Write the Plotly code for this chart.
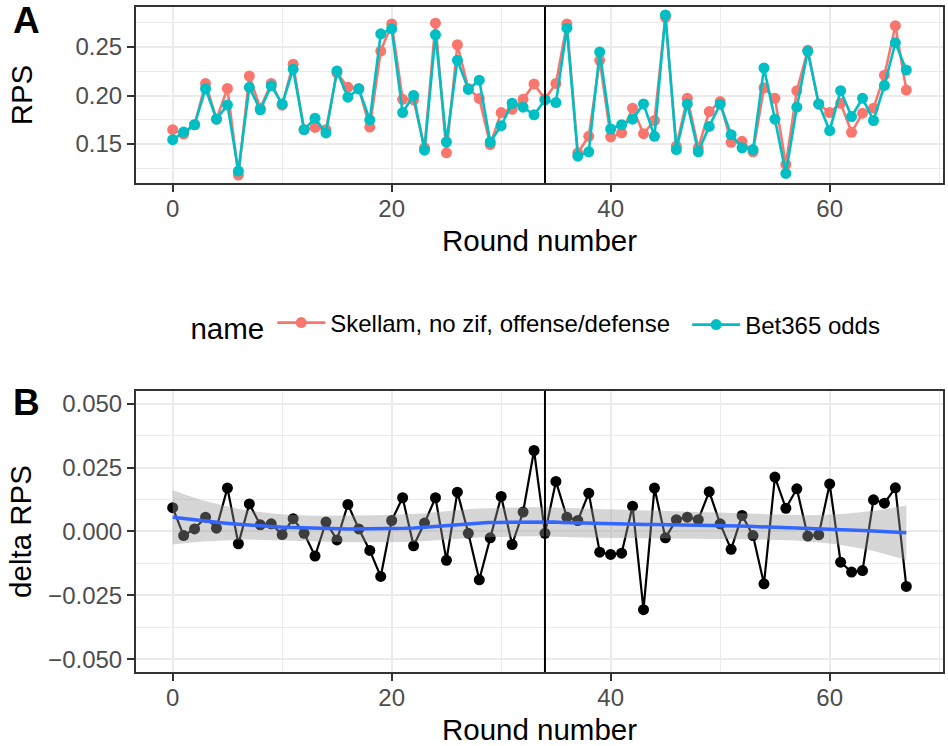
import numpy as np
import plotly.graph_objects as go

# ---------------- data ----------------
rounds = list(range(68))

skellam = [0.1647, 0.1602, 0.1698, 0.2125, 0.1756, 0.2073, 0.1179, 0.2200, 0.1868, 0.2125,
           0.1900, 0.2323, 0.1647, 0.1670, 0.1647, 0.2234, 0.2084, 0.2073, 0.1674, 0.2459,
           0.2739, 0.1961, 0.1954, 0.1460, 0.2746, 0.1408, 0.2524, 0.2073, 0.1970, 0.1493,
           0.1824, 0.1858, 0.1960, 0.2118, 0.1964, 0.2125, 0.2739, 0.1408, 0.1579, 0.2363,
           0.1572, 0.1613, 0.1869, 0.1606, 0.1742, 0.2807, 0.1476, 0.1971, 0.1460, 0.1834,
           0.1937, 0.1517, 0.1527, 0.1418, 0.2080, 0.1971, 0.1288, 0.2050, 0.2466, 0.1910,
           0.1824, 0.1920, 0.1620, 0.1817, 0.1869, 0.2210, 0.2720, 0.2056]

bet365 = [0.1544, 0.1623, 0.1698, 0.2070, 0.1756, 0.1903, 0.1220, 0.2084, 0.1852, 0.2100,
          0.1913, 0.2272, 0.1647, 0.1766, 0.1613, 0.2254, 0.1983, 0.2067, 0.1749, 0.2637,
          0.2688, 0.1824, 0.2000, 0.1435, 0.2627, 0.1520, 0.2363, 0.2063, 0.2158, 0.1520,
          0.1688, 0.1920, 0.1879, 0.1800, 0.1954, 0.1927, 0.2695, 0.1374, 0.1419, 0.2449,
          0.1654, 0.1698, 0.1756, 0.1913, 0.1579, 0.2831, 0.1442, 0.1913, 0.1419, 0.1681,
          0.1910, 0.1596, 0.1460, 0.1442, 0.2284, 0.1756, 0.1196, 0.1879, 0.2456, 0.1913,
          0.1637, 0.2050, 0.1783, 0.1971, 0.1742, 0.2104, 0.2544, 0.2262]

delta_rps = [0.0093, -0.0016, 0.0010, 0.0056, 0.0013, 0.0170, -0.0048, 0.0108, 0.0026, 0.0030,
             -0.0012, 0.0050, -0.0007, -0.0096, 0.0037, -0.0033, 0.0106, 0.0010, -0.0074, -0.0176,
             0.0043, 0.0132, -0.0056, 0.0033, 0.0132, -0.0113, 0.0154, -0.0007, -0.0189, -0.0025,
             0.0137, -0.0051, 0.0076, 0.0317, -0.0007, 0.0196, 0.0056, 0.0043, 0.0150, -0.0081,
             -0.0090, -0.0085, 0.0099, -0.0306, 0.0170, -0.0025, 0.0046, 0.0056, 0.0046, 0.0156,
             0.0030, -0.0070, 0.0063, -0.0016, -0.0205, 0.0213, 0.0091, 0.0167, -0.0018, -0.0013,
             0.0186, -0.0120, -0.0159, -0.0153, 0.0124, 0.0111, 0.0171, -0.0215]

series_names = ["Skellam, no zif, offense/defense", "Bet365 odds"]
split_round = 34

x_ticks = [0, 20, 40, 60]
x_minor = [10, 30, 50, 70]
top_y_ticks = [0.15, 0.20, 0.25]
top_y_labels = ["0.15", "0.20", "0.25"]
top_y_minor = [0.125, 0.175, 0.225, 0.275]
bot_y_ticks = [-0.050, -0.025, 0.0, 0.025, 0.050]
bot_y_labels = ["\u22120.050", "\u22120.025", "0.000", "0.025", "0.050"]
bot_y_minor = [-0.0375, -0.0125, 0.0125, 0.0375]


# ---------------- loess smooth (as geom_smooth) ----------------
def loess_rows(x, x_eval, span=0.75):
    n = len(x)
    q = int(np.floor(n * span))
    rows = []
    for x0 in x_eval:
        d = np.abs(x - x0)
        h = np.sort(d)[q - 1]
        u = np.clip(d / h, 0, 1)
        w = (1 - u ** 3) ** 3
        X = np.column_stack([np.ones(n), x - x0, (x - x0) ** 2])
        A = X.T @ (w[:, None] * X)
        B = X.T * w
        rows.append(np.linalg.solve(A, B)[0])
    return np.array(rows)


xd = np.array(rounds, dtype=float)
yd = np.array(delta_rps)
xs = np.linspace(xd.min(), xd.max(), 80)
L_data = loess_rows(xd, xd)
L_eval = loess_rows(xd, xs)
fit = L_eval @ yd
res = yd - L_data @ yd
IL = np.eye(len(xd)) - L_data
M = IL.T @ IL
d1 = np.trace(M)
d2 = np.trace(M @ M)
sigma = np.sqrt(np.sum(res ** 2) / d1)
se = sigma * np.sqrt(np.sum(L_eval ** 2, axis=1))
df = d1 ** 2 / d2
z = 1.959964
tq = z + (z ** 3 + z) / (4 * df) + (5 * z ** 5 + 16 * z ** 3 + 3 * z) / (96 * df ** 2)
upper = fit + tq * se
lower = fit - tq * se

# top y range with ggplot-like 5% expansion
all_top = skellam + bet365
tmin, tmax = min(all_top), max(all_top)
pad = 0.05 * (tmax - tmin)
top_range = [tmin - pad, tmax + pad]
xpad = 0.05 * (max(rounds) - min(rounds))
x_range = [min(rounds) - xpad, max(rounds) + xpad]

# ---------------- figure ----------------
RED = "#F8766D"
TEAL = "#00BFC4"
FONT = "Liberation Sans, Arial, sans-serif"
TICK_SIZE = 24
TITLE_SIZE = 29.5

fig = go.Figure()
fig.add_trace(go.Scatter(x=rounds, y=skellam, mode="lines+markers", name=series_names[0],
                         line=dict(color=RED, width=2.6), marker=dict(color=RED, size=11),
                         xaxis="x", yaxis="y", legend="legend"))
fig.add_trace(go.Scatter(x=rounds, y=bet365, mode="lines+markers", name=series_names[1],
                         line=dict(color=TEAL, width=2.6), marker=dict(color=TEAL, size=11),
                         xaxis="x", yaxis="y", legend="legend2"))
fig.add_trace(go.Scatter(x=rounds, y=delta_rps, mode="lines+markers", showlegend=False,
                         line=dict(color="black", width=2.2), marker=dict(color="black", size=11),
                         xaxis="x2", yaxis="y2"))
fig.add_trace(go.Scatter(x=list(xs) + list(xs[::-1]), y=list(upper) + list(lower[::-1]),
                         fill="toself", fillcolor="rgba(153,153,153,0.4)", mode="lines",
                         line=dict(width=0, color="rgba(0,0,0,0)"), showlegend=False,
                         hoverinfo="skip", xaxis="x2", yaxis="y2"))
fig.add_trace(go.Scatter(x=xs, y=fit, mode="lines", showlegend=False,
                         line=dict(color="#3366FF", width=3.5), xaxis="x2", yaxis="y2"))

common_x = dict(range=x_range, tickmode="array", tickvals=x_ticks, ticks="outside", ticklen=7,
                tickwidth=2, tickcolor="#333333", showgrid=True, gridcolor="#EBEBEB", gridwidth=2,
                minor=dict(tickmode="array", tickvals=x_minor, showgrid=True, gridcolor="#EBEBEB",
                           gridwidth=1, ticks=""),
                showline=True, mirror=True, linecolor="#333333", linewidth=2, zeroline=False,
                tickfont=dict(size=TICK_SIZE, color="#4D4D4D", family=FONT),
                ticklabelstandoff=-4,
                title=dict(text="Round number", font=dict(size=TITLE_SIZE, color="black", family=FONT),
                           standoff=10),
                automargin=False)
common_y = dict(ticks="outside", ticklen=7, tickwidth=2, tickcolor="#333333", showgrid=True,
                gridcolor="#EBEBEB", gridwidth=2, showline=True, mirror=True, linecolor="#333333",
                linewidth=2, zeroline=False, tickmode="array",
                tickfont=dict(size=TICK_SIZE, color="#4D4D4D", family=FONT), automargin=False)

legend_common = dict(orientation="h", yanchor="middle", y=0.5218, xanchor="left",
                     font=dict(size=TICK_SIZE, color="black", family=FONT), itemwidth=48,
                     bgcolor="rgba(0,0,0,0)")

fig.update_layout(
    width=948, height=746,
    margin=dict(l=136, r=5, t=7, b=74),
    paper_bgcolor="white", plot_bgcolor="white",
    font=dict(family=FONT, color="black"),
    xaxis=dict(common_x, domain=[0, 1], anchor="y"),
    xaxis2=dict(common_x, domain=[0, 1], anchor="y2"),
    yaxis=dict(common_y, domain=[0.7353, 1], anchor="x", range=top_range,
               tickvals=top_y_ticks, ticktext=top_y_labels,
               minor=dict(tickmode="array", tickvals=top_y_minor, showgrid=True,
                          gridcolor="#EBEBEB", gridwidth=1, ticks=""),
               title=dict(text="RPS", font=dict(size=TITLE_SIZE, color="black", family=FONT),
                          standoff=34)),
    yaxis2=dict(common_y, domain=[0, 0.4226], anchor="x2", range=[-0.055, 0.055],
                tickvals=bot_y_ticks, ticktext=bot_y_labels,
                minor=dict(tickmode="array", tickvals=bot_y_minor, showgrid=True,
                           gridcolor="#EBEBEB", gridwidth=1, ticks=""),
                title=dict(text="delta RPS", font=dict(size=TITLE_SIZE, color="black", family=FONT),
                           standoff=8)),
    legend=dict(legend_common, x=0.065,
                title=dict(text="name", font=dict(size=TITLE_SIZE, color="black", family=FONT),
                           side="left")),
    legend2=dict(legend_common, x=0.683),
    shapes=[
        dict(type="line", xref="x", yref="y domain", x0=split_round, x1=split_round, y0=0, y1=1,
             line=dict(color="black", width=2), layer="above"),
        dict(type="line", xref="x2", yref="y2 domain", x0=split_round, x1=split_round, y0=0, y1=1,
             line=dict(color="black", width=2), layer="above"),
    ],
    annotations=[
        dict(text="<b>A</b>", xref="paper", yref="paper", x=-0.1537, y=0.979, xanchor="left",
             yanchor="middle", showarrow=False, borderpad=0,
             font=dict(size=37, color="black", family=FONT)),
        dict(text="<b>B</b>", xref="paper", yref="paper", x=-0.1537, y=0.4053, xanchor="left",
             yanchor="middle", showarrow=False, borderpad=0,
             font=dict(size=37, color="black", family=FONT)),
    ],
)

fig.write_html("out.html")
